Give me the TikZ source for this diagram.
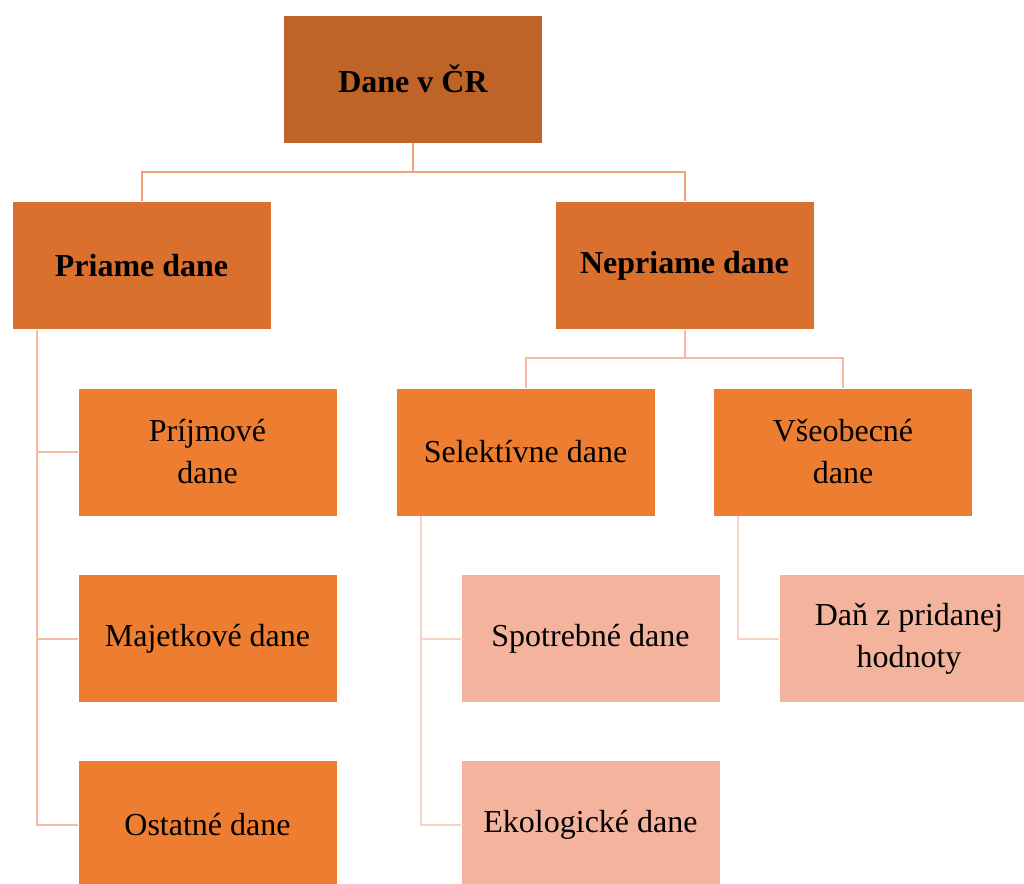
\documentclass[tikz,border=0pt]{standalone}
\usepackage{fontspec}
\setmainfont{Liberation Serif}
\usetikzlibrary{positioning}
\definecolor{topc}{RGB}{190,100,40}
\definecolor{midc}{RGB}{217,112,46}
\definecolor{lowc}{RGB}{237,125,49}
\definecolor{leafc}{RGB}{243,179,156}
\definecolor{lineA}{RGB}{242,158,118}
\definecolor{lineB}{RGB}{245,184,162}
\definecolor{lineC}{RGB}{248,210,198}
\newcommand{\boxw}{129.5pt}
\newcommand{\boxh}{64pt}

\begin{document}
\begin{tikzpicture}[x=0.5pt,y=-0.5pt,
    taxbox/.style={rectangle, draw=white, line width=0.4pt, minimum width=\boxw,
        minimum height=\boxh, inner sep=2pt, align=center, font=\fontsize{16}{21}\selectfont},
    link/.style={line width=1pt}]
    \useasboundingbox (0,0) rectangle (1024,884);
    \clip (0,0) rectangle (1024,884);
    %\draw[help lines] (0,0) grid[step=50] (1024,884);
    \node[taxbox, fill=topc, font=\fontsize{16}{21}\selectfont\bfseries] (dane) at (413,79) {Dane v ČR};
    \node[taxbox, fill=midc, font=\fontsize{16}{21}\selectfont\bfseries] (priame) at (141.5,265.5) {Priame dane};
    \node[taxbox, fill=midc, font=\fontsize{16}{21}\selectfont\bfseries] (nepriame) at (684.5,265.5) {Nepriame dane};
    \node[taxbox, fill=lowc] (prijmove) at (207.5,452) {Príjmové\\dane};
    \node[taxbox, fill=lowc] (majetkove) at (207.5,638.5) {Majetkové dane};
    \node[taxbox, fill=lowc] (ostatne) at (207.5,824.5) {Ostatné dane};
    \node[taxbox, fill=lowc] (selektivne) at (525.5,452) {Selektívne dane};
    \node[taxbox, fill=lowc] (vseobecne) at (843,452) {Všeobecné\\dane};
    \node[taxbox, fill=leafc] (spotrebne) at (590.5,638.5) {Spotrebné dane};
    \node[taxbox, fill=leafc] (ekologicke) at (590.5,824.5) {Ekologické dane};
    \node[taxbox, fill=leafc] (dph) at (909,638.5) {Daň z pridanej\\hodnoty};

    \coordinate (forkA) at ([yshift=-14.5pt]dane.south);
    \coordinate (forkB) at ([yshift=-14pt]nepriame.south);
    \coordinate (railP) at ([xshift=12.5pt]priame.south west);
    \coordinate (railS) at ([xshift=12.5pt]selektivne.south west);
    \coordinate (railV) at ([xshift=12.5pt]vseobecne.south west);

    \draw[link, lineA] (dane.south) -- (forkA) -| (priame.north);
    \draw[link, lineA] (forkA) -| (nepriame.north);
    \draw[link, lineB] (nepriame.south) -- (forkB) -| (selektivne.north);
    \draw[link, lineB] (forkB) -| (vseobecne.north);
    \foreach \leaf in {prijmove,majetkove,ostatne}
        \draw[link, lineB] (railP) |- (\leaf.west);
    \foreach \leaf in {spotrebne,ekologicke}
        \draw[link, lineC] (railS) |- (\leaf.west);
    \draw[link, lineC] (railV) |- (dph.west);
\end{tikzpicture}
\end{document}
